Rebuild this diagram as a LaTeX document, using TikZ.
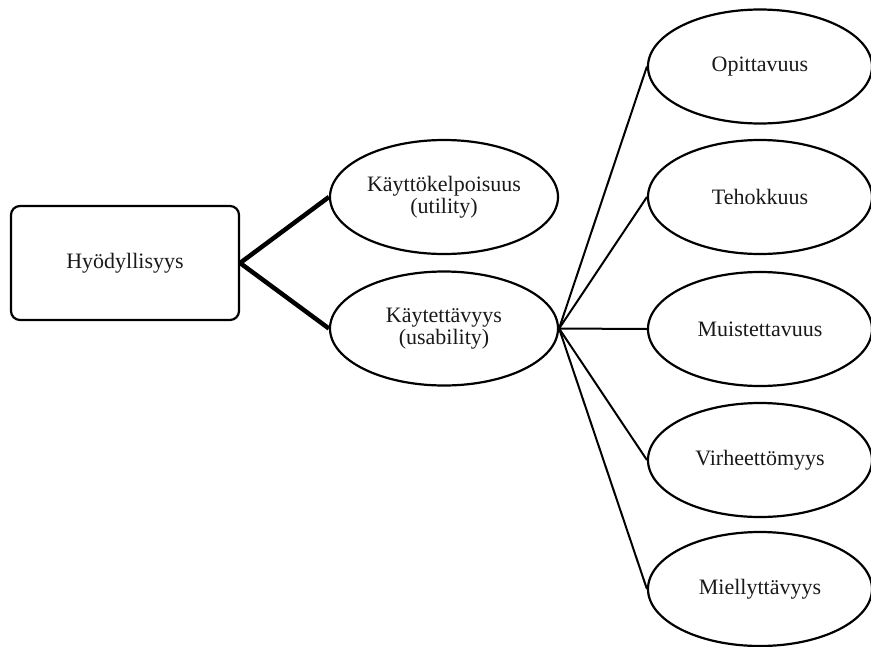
\documentclass[tikz,border=0pt]{standalone}
\usepackage{fontspec}
\setmainfont{Liberation Serif}
\usetikzlibrary{shapes.geometric}
\begin{document}
\begin{tikzpicture}[x=1pt,y=-1pt,
  every node/.style={font=\fontsize{22}{22.5}\selectfont, text=black!90, align=center, inner sep=0pt},
  rootbox/.style={draw, line width=2.2pt, rounded corners=9pt, minimum width=228pt, minimum height=114pt},
  midoval/.style={draw, ellipse, line width=2.2pt, minimum width=228pt, minimum height=114pt},
  leafoval/.style={draw, ellipse, line width=2.2pt, minimum width=224pt, minimum height=114pt},
  boldlink/.style={line width=4.5pt},
  thinlink/.style={line width=2pt}]
\useasboundingbox (0,0) rectangle (871,646);

% root
\node[rootbox] (root) at (125,263) {Hyödyllisyys};

% second level
\node[midoval] (utility) at (444,197) {Käyttökelpoisuus\\(utility)};
\node[midoval] (usability) at (444,328.5) {Käytettävyys\\(usability)};

% usability attributes
\node[leafoval] (learn) at (760,66.5) {Opittavuus};
\node[leafoval] (effic) at (760,197) {Tehokkuus};
\node[leafoval] (memo)  at (760,329) {Muistettavuus};
\node[leafoval] (error) at (760,460) {Virheettömyys};
\node[leafoval] (satis) at (760,589) {Miellyttävyys};

% connectors
\draw[boldlink] (root.east) -- (utility.west);
\draw[boldlink] (root.east) -- (usability.west);
\foreach \t in {learn,effic,memo,error,satis}
  \draw[thinlink] (usability.east) -- (\t.west);
\end{tikzpicture}
\end{document}
